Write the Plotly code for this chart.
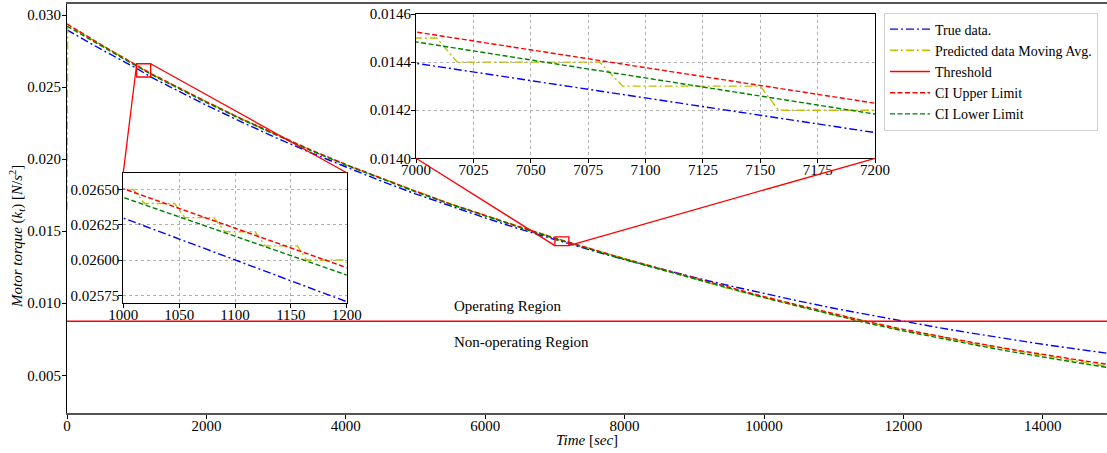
import plotly.graph_objects as go

W, H = 1107, 453

# ---------------- data ----------------
time_main = [0, 500, 1000, 1200, 1500, 2000, 2500, 3000, 3500, 4000, 4500, 5000,
             5500, 6000, 6500, 7000, 7200, 7500, 8000, 8500, 9000, 9500, 10000,
             10500, 11000, 11500, 12000, 12500, 13000, 13500, 14000, 14500, 14960]
true_data = [0.02896, 0.02759, 0.026297, 0.025705, 0.02496, 0.02374, 0.02259, 0.02148,
             0.02044, 0.01944, 0.01849, 0.01759, 0.01673, 0.01592, 0.01514, 0.014395,
             0.014107, 0.01370, 0.01303, 0.01240, 0.01179, 0.01122, 0.01067, 0.01015,
             0.00965, 0.00919, 0.00874, 0.00831, 0.00791, 0.00752, 0.00715, 0.00681, 0.00651]
ci_upper = [0.02938, 0.02791, 0.026505, 0.025946, 0.02521, 0.02398, 0.02281, 0.02170,
            0.02064, 0.01963, 0.01868, 0.01777, 0.01690, 0.01608, 0.01529, 0.014525,
            0.014229, 0.01380, 0.01308, 0.01241, 0.01176, 0.01107, 0.01046, 0.00986,
            0.00928, 0.00870, 0.00819, 0.00771, 0.00727, 0.00684, 0.00644, 0.00607, 0.00574]
ci_lower = [0.02922, 0.02782, 0.026443, 0.025894, 0.02515, 0.02392, 0.02276, 0.02165,
            0.02059, 0.01959, 0.01864, 0.01773, 0.01686, 0.01604, 0.01525, 0.014484,
            0.014184, 0.01376, 0.01303, 0.01236, 0.01170, 0.01101, 0.01039, 0.00978,
            0.00919, 0.00860, 0.00808, 0.00759, 0.00713, 0.00668, 0.00626, 0.00587, 0.00552]
pred_time = [0, 10, 500, 992, 1009, 1019, 1046, 1055, 1081, 1091, 1118, 1127, 1156, 1164,
             1198, 1208, 1500, 2000, 2500, 3000, 3500, 4000, 4500, 5000, 5500, 6000, 6500,
             6992, 7009, 7018, 7080, 7090, 7150, 7158, 7210, 7500, 8000, 8500, 9000, 9500,
             10000, 10500, 11000, 11500, 12000, 12500, 13000, 13500, 14000, 14500, 14960]
pred_avg = [0.0165, 0.0293, 0.0279, 0.0265, 0.0265, 0.0264, 0.0264, 0.0263, 0.0263, 0.0262,
            0.0262, 0.0261, 0.0261, 0.0260, 0.0260, 0.0259, 0.0252, 0.0240, 0.0228, 0.0217,
            0.0206, 0.0196, 0.0187, 0.0178, 0.0169, 0.0161, 0.0153,
            0.0145, 0.0145, 0.0144, 0.0144, 0.0143, 0.0143, 0.0142, 0.0142, 0.0138, 0.0131,
            0.0124, 0.0117, 0.0110, 0.0104, 0.0098, 0.0092, 0.0087, 0.0081, 0.0077, 0.0072,
            0.0068, 0.0064, 0.0060, 0.0056]
threshold_value = 0.00875

main_xticks = [0, 2000, 4000, 6000, 8000, 10000, 12000, 14000]
main_yticks = [0.005, 0.010, 0.015, 0.020, 0.025, 0.030]
inset1_xticks = [1000, 1050, 1100, 1150, 1200]
inset1_yticks = [0.02575, 0.02600, 0.02625, 0.02650]
inset2_xticks = [7000, 7025, 7050, 7075, 7100, 7125, 7150, 7175, 7200]
inset2_yticks = [0.0140, 0.0142, 0.0144, 0.0146]

# ---------------- layout geometry ----------------
FONT = "Liberation Serif"
main_xr = [0, 14921]
main_yr = [0.002384, 0.030763]
main_xdom = [67 / W, 1.0]
main_ydom = [1 - 413 / H, 1 - 4 / H]
in1_xr = [1000, 1200]
in1_yr = [0.025698, 0.026618]
in1_xdom = [123.3 / W, 346.7 / W]
in1_ydom = [1 - 302.7 / H, 1 - 172.7 / H]
in2_xr = [7000, 7200]
in2_yr = [0.0140, 0.0146]
in2_xdom = [416 / W, 875 / W]
in2_ydom = [1 - 158.3 / H, 1 - 14 / H]


def to_paper(xv, yv):
    px = main_xdom[0] + (xv - main_xr[0]) / (main_xr[1] - main_xr[0]) * (main_xdom[1] - main_xdom[0])
    py = main_ydom[0] + (yv - main_yr[0]) / (main_yr[1] - main_yr[0]) * (main_ydom[1] - main_ydom[0])
    return px, py


BLUE, YEL, RED, GRN = "#0000ff", "#bfbf00", "#ff0000", "#008000"
DASHDOT = "8px,3px,2px,3px"
DASH = "5px,2.5px"
LW = 1.4

fig = go.Figure()

axes_sets = [("x", "y", True), ("x2", "y2", False), ("x3", "y3", False)]
for xa, ya, main in axes_sets:
    fig.add_trace(go.Scatter(x=time_main, y=true_data, mode="lines", name="True data.",
                             line=dict(color=BLUE, width=LW, dash=DASHDOT), xaxis=xa, yaxis=ya,
                             showlegend=main))
    fig.add_trace(go.Scatter(x=pred_time, y=pred_avg, mode="lines", name="Predicted data Moving Avg.",
                             line=dict(color=YEL, width=LW, dash=DASHDOT), xaxis=xa, yaxis=ya,
                             showlegend=main))
    if main:
        fig.add_trace(go.Scatter(x=[main_xr[0], main_xr[1]], y=[threshold_value, threshold_value],
                                 mode="lines", name="Threshold",
                                 line=dict(color=RED, width=LW), xaxis=xa, yaxis=ya))
    fig.add_trace(go.Scatter(x=time_main, y=ci_upper, mode="lines", name="CI Upper Limit",
                             line=dict(color=RED, width=LW, dash=DASH), xaxis=xa, yaxis=ya,
                             showlegend=main))
    fig.add_trace(go.Scatter(x=time_main, y=ci_lower, mode="lines", name="CI Lower Limit",
                             line=dict(color=GRN, width=LW, dash=DASH), xaxis=xa, yaxis=ya,
                             showlegend=main))

tickfont = dict(family=FONT, size=15, color="black")

inset_common = dict(showline=True, linecolor="black", linewidth=1, mirror=True,
                    ticks="outside", ticklen=4, tickcolor="black", tickfont=tickfont,
                    showgrid=True, gridcolor="#b0b0b0", griddash="dot", gridwidth=1,
                    zeroline=False, automargin=False)

fig.update_layout(
    width=W, height=H,
    margin=dict(l=0, r=0, t=0, b=0, autoexpand=False),
    paper_bgcolor="white", plot_bgcolor="white",
    font=dict(family=FONT, size=15, color="black"),
    showlegend=True,
    legend=dict(x=884 / W, y=1 - 12.5 / H, xanchor="left", yanchor="top",
                bgcolor="white", bordercolor="#d0d0d0", borderwidth=1,
                font=dict(family=FONT, size=14, color="black"),
                itemwidth=40, tracegroupgap=0),
    xaxis=dict(domain=main_xdom, range=main_xr, anchor="y", showline=True, linecolor="#555555",
               linewidth=2, mirror=True, ticks="outside", ticklen=4, tickcolor="black",
               tickvals=main_xticks, ticktext=[str(v) for v in main_xticks], tickfont=tickfont,
               showgrid=False, zeroline=False, automargin=False, ticklabelstandoff=-6),
    yaxis=dict(domain=main_ydom, range=main_yr, anchor="x", showline=True, linecolor="black",
               linewidth=1, ticks="outside", ticklen=4, tickcolor="black",
               tickvals=main_yticks, ticktext=[f"{v:.3f}" for v in main_yticks], tickfont=tickfont,
               showgrid=False, zeroline=False, automargin=False, ticklabelstandoff=-2),
    xaxis2=dict(domain=in1_xdom, range=in1_xr, anchor="y2", tickvals=inset1_xticks,
                ticktext=[str(v) for v in inset1_xticks], ticklabelstandoff=-6, **inset_common),
    yaxis2=dict(domain=in1_ydom, range=in1_yr, anchor="x2", tickvals=inset1_yticks,
                ticktext=[f"{v:.5f}" for v in inset1_yticks], ticklabelstandoff=-4, **inset_common),
    xaxis3=dict(domain=in2_xdom, range=in2_xr, anchor="y3", tickvals=inset2_xticks,
                ticktext=[str(v) for v in inset2_xticks], ticklabelstandoff=-6, **inset_common),
    yaxis3=dict(domain=in2_ydom, range=in2_yr, anchor="x3", tickvals=inset2_yticks,
                ticktext=[f"{v:.4f}" for v in inset2_yticks], ticklabelstandoff=-3, **inset_common),
)

# zoom boxes in main axes + connectors
shapes = []
for (xr_, yr_) in [(in1_xr, in1_yr), (in2_xr, in2_yr)]:
    shapes.append(dict(type="rect", xref="x", yref="y", x0=xr_[0], x1=xr_[1], y0=yr_[0], y1=yr_[1],
                       line=dict(color=RED, width=1.3), fillcolor="rgba(0,0,0,0)"))
# inset 1: top-left and top-right corners
for cx, dom_x in [(in1_xr[0], in1_xdom[0]), (in1_xr[1], in1_xdom[1])]:
    bx, by = to_paper(cx, in1_yr[1])
    shapes.append(dict(type="line", xref="paper", yref="paper", x0=bx, y0=by, x1=dom_x, y1=in1_ydom[1],
                       line=dict(color=RED, width=1.3)))
# inset 2: bottom-left and bottom-right corners
for cx, dom_x in [(in2_xr[0], in2_xdom[0]), (in2_xr[1], in2_xdom[1])]:
    bx, by = to_paper(cx, in2_yr[0])
    shapes.append(dict(type="line", xref="paper", yref="paper", x0=bx, y0=by, x1=dom_x, y1=in2_ydom[0],
                       line=dict(color=RED, width=1.3)))
fig.update_layout(shapes=shapes)

annots = [
    dict(x=5525, y=0.00981, xref="x", yref="y", text="Operating Region", showarrow=False,
         xanchor="left", yanchor="middle", font=dict(family=FONT, size=15)),
    dict(x=5525, y=0.00731, xref="x", yref="y", text="Non-operating Region", showarrow=False,
         xanchor="left", yanchor="middle", font=dict(family=FONT, size=15)),
    dict(x=17 / W, y=1 - 237 / H, xref="paper", yref="paper",
         text="<i>Motor torque</i> (<i>k<sub>t</sub></i>) [<i>N</i>/<i>s</i><sup>2</sup>]",
         showarrow=False, textangle=-90, xanchor="center", yanchor="middle",
         font=dict(family=FONT, size=15)),
    dict(x=587 / W, y=1 - 440 / H, xref="paper", yref="paper",
         text="<i>Time</i> [<i>sec</i>]", showarrow=False, xanchor="center", yanchor="middle",
         font=dict(family=FONT, size=15)),
]
fig.update_layout(annotations=annots)

fig.write_html("out.html")
